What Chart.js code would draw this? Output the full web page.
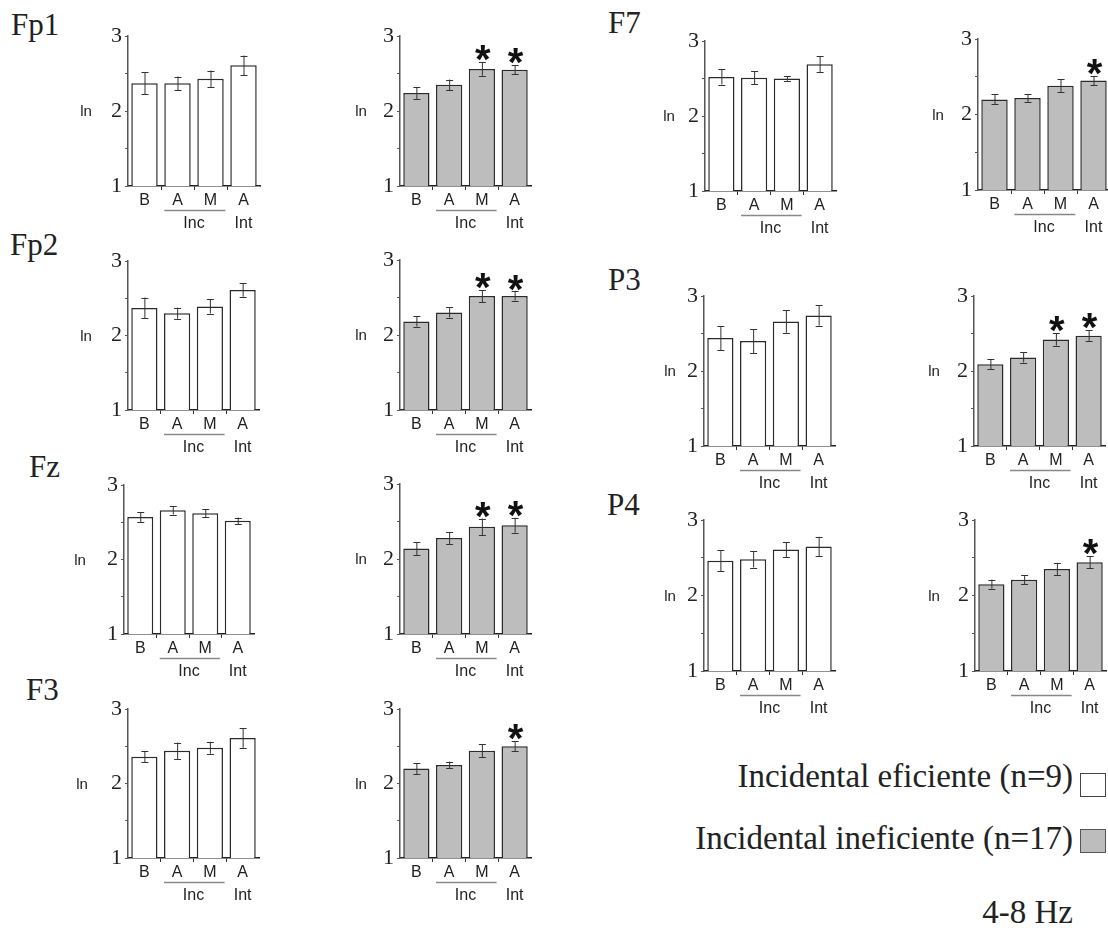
<!DOCTYPE html>
<html>
<head>
<meta charset="utf-8">
<script src="https://cdn.jsdelivr.net/npm/chart.js@4.4.1/dist/chart.umd.min.js"></script>
<style>
  html, body { margin: 0; padding: 0; background: #fff; }
  body { width: 1108px; height: 932px; position: relative; overflow: hidden; }
  canvas { position: absolute; }
  .lbl { position: absolute; font-family: 'Liberation Serif', serif; color: #222; line-height: 1; white-space: nowrap; }
  .title { font-size: 31px; }
  .legend { font-size: 33px; right: 35px; text-align: right; }
  .box { position: absolute; left: 1080px; width: 26px; height: 24px; box-sizing: border-box; }
</style>
</head>
<body>
<div class="lbl title" style="left:11px; top:9px;">Fp1</div>
<div class="lbl title" style="left:10px; top:229px;">Fp2</div>
<div class="lbl title" style="left:29px; top:451px;">Fz</div>
<div class="lbl title" style="left:26px; top:674px;">F3</div>
<div class="lbl title" style="left:608px; top:7px;">F7</div>
<div class="lbl title" style="left:608px; top:264px;">P3</div>
<div class="lbl title" style="left:607px; top:489px;">P4</div>

<div class="lbl legend" style="top:760px;">Incidental eficiente (n=9)</div>
<div class="box" style="top:773px; border:1px solid #444; background:#fff;"></div>
<div class="lbl legend" style="top:822px;">Incidental ineficiente (n=17)</div>
<div class="box" style="top:829px; border:1px solid #555; background:#bdbdbd;"></div>
<div class="lbl legend" style="top:896px;">4-8 Hz</div>

<script>
// categories on the x axis and the two groups drawn under them
const categories = ['B', 'A', 'M', 'A'];
const groupLabels = ['Inc', 'Int'];

// ln power, mean and error, per electrode
// "efi" = Incidental eficiente (white), "inef" = Incidental ineficiente (grey)
const fp1Efi = [2.37, 2.37, 2.43, 2.61];
const fp1EfiErr = [0.15, 0.09, 0.11, 0.13];
const fp1Inef = [2.24, 2.35, 2.56, 2.55];
const fp1InefErr = [0.08, 0.07, 0.09, 0.06];
const fp1Sig = [false, false, true, true];

const fp2Efi = [2.37, 2.30, 2.39, 2.61];
const fp2EfiErr = [0.14, 0.075, 0.095, 0.09];
const fp2Inef = [2.18, 2.30, 2.52, 2.52];
const fp2InefErr = [0.067, 0.067, 0.08, 0.06];
const fp2Sig = [false, false, true, true];

const fzEfi = [2.57, 2.66, 2.62, 2.52];
const fzEfiErr = [0.067, 0.056, 0.056, 0.043];
const fzInef = [2.14, 2.28, 2.43, 2.45];
const fzInefErr = [0.087, 0.08, 0.11, 0.10];
const fzSig = [false, false, true, true];

const f3Efi = [2.36, 2.44, 2.48, 2.61];
const f3EfiErr = [0.075, 0.11, 0.08, 0.13];
const f3Inef = [2.20, 2.25, 2.44, 2.50];
const f3InefErr = [0.073, 0.044, 0.09, 0.07];
const f3Sig = [false, false, false, true];

const f7Efi = [2.52, 2.51, 2.50, 2.69];
const f7EfiErr = [0.10, 0.087, 0.03, 0.105];
const f7Inef = [2.20, 2.22, 2.38, 2.45];
const f7InefErr = [0.066, 0.053, 0.086, 0.062];
const f7Sig = [false, false, false, true];

const p3Efi = [2.44, 2.40, 2.66, 2.74];
const p3EfiErr = [0.16, 0.16, 0.15, 0.135];
const p3Inef = [2.09, 2.18, 2.42, 2.47];
const p3InefErr = [0.064, 0.067, 0.082, 0.073];
const p3Sig = [false, false, true, true];

const p4Efi = [2.46, 2.48, 2.61, 2.65];
const p4EfiErr = [0.137, 0.11, 0.10, 0.128];
const p4Inef = [2.15, 2.21, 2.35, 2.44];
const p4InefErr = [0.06, 0.06, 0.084, 0.082];
const p4Sig = [false, false, false, true];

const noSig = [false, false, false, false];

// --- layout of the 14 small panels (page pixels) ---
const Y_W = 70, X_H = 48, PAD_T = 22, PAD_R = 4;
const WHITE = '#ffffff', GREY = '#bdbdbd';

const panels = [
  { values: fp1Efi, err: fp1EfiErr, sig: noSig, fill: WHITE, axisX: 128, y3: 36, y1: 186, right: 260, lnDx: 42 },
  { values: fp1Inef, err: fp1InefErr, sig: fp1Sig, fill: GREY, axisX: 400, y3: 36, y1: 186, right: 531, lnDx: 39 },
  { values: fp2Efi, err: fp2EfiErr, sig: noSig, fill: WHITE, axisX: 128, y3: 261, y1: 410, right: 259, lnDx: 42 },
  { values: fp2Inef, err: fp2InefErr, sig: fp2Sig, fill: GREY, axisX: 400, y3: 260, y1: 410, right: 531, lnDx: 39 },
  { values: fzEfi, err: fzEfiErr, sig: noSig, fill: WHITE, axisX: 124, y3: 485, y1: 634, right: 254, lnDx: 44 },
  { values: fzInef, err: fzInefErr, sig: fzSig, fill: GREY, axisX: 400, y3: 484, y1: 634, right: 531, lnDx: 39 },
  { values: f3Efi, err: f3EfiErr, sig: noSig, fill: WHITE, axisX: 128, y3: 709, y1: 858, right: 259, lnDx: 46 },
  { values: f3Inef, err: f3InefErr, sig: f3Sig, fill: GREY, axisX: 400, y3: 709, y1: 858, right: 531, lnDx: 39 },
  { values: f7Efi, err: f7EfiErr, sig: noSig, fill: WHITE, axisX: 705, y3: 41, y1: 191, right: 836, lnDx: 36 },
  { values: f7Inef, err: f7InefErr, sig: f7Sig, fill: GREY, axisX: 978, y3: 39, y1: 190, right: 1110, lnDx: 40 },
  { values: p3Efi, err: p3EfiErr, sig: noSig, fill: WHITE, axisX: 704, y3: 296, y1: 446, right: 835, lnDx: 34 },
  { values: p3Inef, err: p3InefErr, sig: p3Sig, fill: GREY, axisX: 974, y3: 296, y1: 446, right: 1105, lnDx: 40 },
  { values: p4Efi, err: p4EfiErr, sig: noSig, fill: WHITE, axisX: 704, y3: 520, y1: 671, right: 835, lnDx: 34 },
  { values: p4Inef, err: p4InefErr, sig: p4Sig, fill: GREY, axisX: 975, y3: 520, y1: 671, right: 1106, lnDx: 41 }
];

// error bars, asterisks, "ln" and the Inc / Int group labels
const extras = {
  id: 'extras',
  afterDatasetsDraw(chart, args, opts) {
    const p = opts.panel;
    if (!p) return;
    const { ctx, chartArea } = chart;
    const x = chart.scales.x, y = chart.scales.y;
    ctx.save();

    p.values.forEach((v, i) => {
      const cx = x.getPixelForValue(i);
      const top = y.getPixelForValue(v + p.err[i]);
      const bot = y.getPixelForValue(v - p.err[i]);
      ctx.strokeStyle = '#333';
      ctx.lineWidth = 1;
      ctx.beginPath();
      ctx.moveTo(cx + 0.5, top); ctx.lineTo(cx + 0.5, bot);
      ctx.moveTo(cx - 3, Math.round(top) + 0.5); ctx.lineTo(cx + 4, Math.round(top) + 0.5);
      ctx.moveTo(cx - 3, Math.round(bot) + 0.5); ctx.lineTo(cx + 4, Math.round(bot) + 0.5);
      ctx.stroke();

      if (p.sig[i]) {
        ctx.fillStyle = '#111';
        ctx.font = 'bold 40px "Liberation Sans", Arial, sans-serif';
        ctx.textAlign = 'center';
        ctx.textBaseline = 'alphabetic';
        const m = ctx.measureText('*');
        const centerY = top - 9;
        const base = centerY + (m.actualBoundingBoxAscent - m.actualBoundingBoxDescent) / 2;
        ctx.fillText('*', cx + 1, base);
      }
    });

    // "ln" axis title
    ctx.fillStyle = '#222';
    ctx.font = '15px "Liberation Sans", Arial, sans-serif';
    ctx.textAlign = 'center';
    ctx.textBaseline = 'middle';
    ctx.fillText('ln', chartArea.left - p.lnDx, y.getPixelForValue(2) + 1);

    // group line under A M, then Inc / Int
    const xA = x.getPixelForValue(1), xM = x.getPixelForValue(2), xI = x.getPixelForValue(3);
    const half = x.getPixelForValue(1) - x.getPixelForValue(0);
    const lineY = chartArea.bottom + 24.5;
    ctx.strokeStyle = '#888';
    ctx.lineWidth = 1.5;
    ctx.beginPath();
    ctx.moveTo(xA - half * 0.4, lineY);
    ctx.lineTo(xM + half * 0.45, lineY);
    ctx.stroke();

    ctx.fillStyle = '#222';
    ctx.font = '16px "Liberation Sans", Arial, sans-serif';
    ctx.textBaseline = 'middle';
    ctx.fillText(groupLabels[0], (xA + xM) / 2, chartArea.bottom + 38);
    ctx.fillText(groupLabels[1], xI, chartArea.bottom + 38);
    ctx.restore();
  }
};

const makePanel = (p) => {
  const canvas = document.createElement('canvas');
  const w = Y_W + (p.right - p.axisX) + PAD_R;
  const h = PAD_T + (p.y1 - p.y3) + X_H;
  canvas.width = w;
  canvas.height = h;
  canvas.style.width = w + 'px';
  canvas.style.height = h + 'px';
  canvas.style.left = (p.axisX - Y_W) + 'px';
  canvas.style.top = (p.y3 - PAD_T) + 'px';
  document.body.appendChild(canvas);

  new Chart(canvas.getContext('2d'), {
    type: 'bar',
    data: {
      labels: categories,
      datasets: [{
        data: p.values,
        backgroundColor: p.fill,
        borderColor: '#2a2a2a',
        borderWidth: 1.5,
        barPercentage: 0.8,
        categoryPercentage: 1.0
      }]
    },
    options: {
      responsive: false,
      animation: false,
      devicePixelRatio: 1,
      layout: { padding: { left: 0, top: PAD_T, right: PAD_R, bottom: 0 } },
      plugins: {
        legend: { display: false },
        tooltip: { enabled: false },
        extras: { panel: p }
      },
      scales: {
        x: {
          afterFit: (s) => { s.height = X_H; },
          border: { color: '#222', width: 1.5 },
          grid: {
            offset: true,
            drawOnChartArea: false,
            drawTicks: true,
            tickLength: 4,
            color: (c) => (c.index > 0 && c.index < categories.length) ? '#333' : 'rgba(0,0,0,0)'
          },
          ticks: {
            color: '#222',
            padding: 1,
            font: { family: '"Liberation Sans", Arial, sans-serif', size: 16 },
            maxRotation: 0,
            autoSkip: false
          }
        },
        y: {
          min: 1,
          max: 3,
          afterFit: (s) => { s.width = Y_W; },
          border: { color: '#555', width: 1.5 },
          grid: { drawOnChartArea: false, drawTicks: true, tickLength: 3, color: '#555' },
          ticks: {
            stepSize: 0.5,
            autoSkip: false,
            padding: 3,
            color: '#222',
            font: { family: '"Liberation Serif", serif', size: 22 },
            callback: (v) => Number.isInteger(v) ? String(v) : ''
          }
        }
      }
    },
    plugins: [extras]
  });
};

panels.forEach(makePanel);
</script>
</body>
</html>
